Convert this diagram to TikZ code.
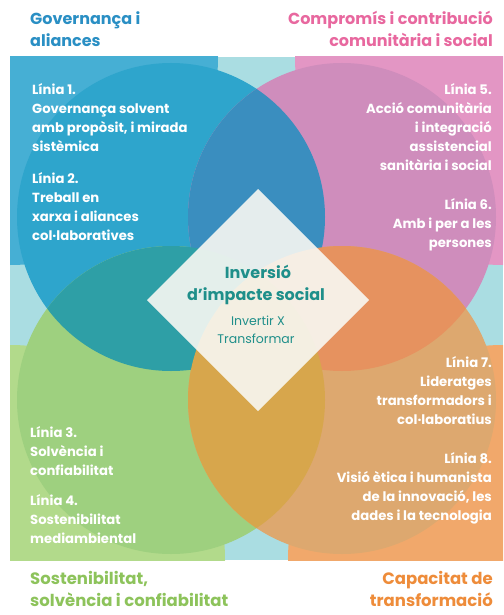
\documentclass[tikz,border=0pt]{standalone}
\usepackage{fontspec}
\setmainfont{Poppins}
\definecolor{palecyan}{HTML}{AADDE2}
\definecolor{lblue}{HTML}{46AFD4}
\definecolor{dblue}{HTML}{2EA5CC}
\definecolor{lpink}{HTML}{E396C4}
\definecolor{dpink}{HTML}{CF8DBC}
\definecolor{lgreen}{HTML}{B2DA8B}
\definecolor{dgreen}{HTML}{9ED07F}
\definecolor{lorange}{HTML}{F1A86B}
\definecolor{dorange}{HTML}{DDA86F}
\definecolor{bpcol}{HTML}{3A8EBF}
\definecolor{bgcol}{HTML}{2E9FA6}
\definecolor{pocol}{HTML}{E6925F}
\definecolor{gocol}{HTML}{D7A64C}
\definecolor{diafill}{HTML}{F8F8F3}
\definecolor{teal1}{HTML}{1F8F8A}
\definecolor{tblue}{HTML}{2A8FC4}
\definecolor{tpink}{HTML}{E8689F}
\definecolor{tgreen}{HTML}{8DC35B}
\definecolor{torange}{HTML}{EE8C3A}
\tikzset{
  linetxt/.style={inner sep=0pt, text=white, font=\bfseries\fontsize{13.2}{19}\selectfont},
  titletxt/.style={inner sep=0pt, font=\bfseries\fontsize{16}{22}\selectfont},
  titlebig/.style={inner sep=0pt, font=\bfseries\fontsize{16.5}{22}\selectfont},
  diabig/.style={inner sep=0pt, anchor=base, text=teal1, font=\bfseries\fontsize{16}{22}\selectfont},
  diasmall/.style={inner sep=0pt, anchor=base, text=teal1, font=\fontsize{12.5}{17}\selectfont}
}
\begin{document}
\begin{tikzpicture}[x=1pt,y=-1pt]
\useasboundingbox (0,0) rectangle (503,615);
\fill[white] (0,0) rectangle (503,615);
\begin{scope}
  \clip (10,57) rectangle (503,560);
  \fill[palecyan] (10,57) rectangle (503,560);
  \fill[lblue] (10,57) circle[radius=208];
  \fill[lpink] (503,57) circle[radius=208];
  \fill[lgreen] (10,560) circle[radius=215];
  \fill[lorange] (503,560) circle[radius=215];
  \fill[dblue] (171,217) circle[radius=154];
  \fill[dpink] (342,217) circle[radius=154];
  \fill[dgreen] (171,400) circle[radius=154];
  \fill[dorange] (342,400) circle[radius=154];
  \begin{scope}
    \clip (171,217) circle[radius=154];
    \fill[bpcol] (342,217) circle[radius=154];
    \fill[bgcol] (171,400) circle[radius=154];
  \end{scope}
  \begin{scope}
    \clip (342,400) circle[radius=154];
    \fill[pocol] (342,217) circle[radius=154];
    \fill[gocol] (171,400) circle[radius=154];
  \end{scope}
\end{scope}
\fill[diafill, fill opacity=0.9] (258,189) -- (369,300) -- (258,411) -- (147,300) -- cycle;
% titles
\node[titletxt, text=tblue, anchor=base west] (tgov) at (30,25) {\begin{tabular}[t]{@{}l@{}}Governança i\\aliances\end{tabular}};
\node[titletxt, text=tpink, anchor=base east] (tcom) at (493,25) {\begin{tabular}[t]{@{}r@{}}Compromís i contribució\\comunitària i social\end{tabular}};
\node[titlebig, text=tgreen, anchor=base west] (tsos) at (30,584) {\begin{tabular}[t]{@{}l@{}}Sostenibilitat,\\solvència i confiabilitat\end{tabular}};
\node[titlebig, text=torange, anchor=base east] (tcap) at (493,584) {\begin{tabular}[t]{@{}r@{}}Capacitat de\\transformació\end{tabular}};
% lines
\node[linetxt, anchor=base west] (l1) at (32,95) {\begin{tabular}[t]{@{}l@{}}Línia 1.\\Governança solvent\\amb propòsit, i mirada\\sistèmica\end{tabular}};
\node[linetxt, anchor=base west] (l2) at (32,183) {\begin{tabular}[t]{@{}l@{}}Línia 2.\\Treball en\\xarxa i aliances\\col·laboratives\end{tabular}};
\node[linetxt, anchor=base east] (l5) at (492,95) {\begin{tabular}[t]{@{}r@{}}Línia 5.\\Acció comunitària\\i integració\\assistencial\\sanitària i social\end{tabular}};
\node[linetxt, anchor=base east] (l6) at (492,209) {\begin{tabular}[t]{@{}r@{}}Línia 6.\\Amb i per a les\\persones\end{tabular}};
\node[linetxt, anchor=base west] (l3) at (30,437) {\begin{tabular}[t]{@{}l@{}}Línia 3.\\Solvència i\\confiabilitat\end{tabular}};
\node[linetxt, anchor=base west] (l4) at (30,505) {\begin{tabular}[t]{@{}l@{}}Línia 4.\\Sostenibilitat\\mediambiental\end{tabular}};
\node[linetxt, anchor=base east] (l7) at (492,367) {\begin{tabular}[t]{@{}r@{}}Línia 7.\\Lideratges\\transformadors i\\col·laboratius\end{tabular}};
\node[linetxt, anchor=base east] (l8) at (492,463) {\begin{tabular}[t]{@{}r@{}}Línia 8.\\Visió ètica i humanista\\de la innovació, les\\dades i la tecnologia\end{tabular}};
% centre
\node[diabig] (d1) at (258,278) {Inversió};
\node[diabig] (d2) at (256,300) {d’impacte social};
\node[diasmall] (d3) at (258,325) {Invertir X};
\node[diasmall] (d4) at (256,343) {Transformar};
\end{tikzpicture}
\end{document}
